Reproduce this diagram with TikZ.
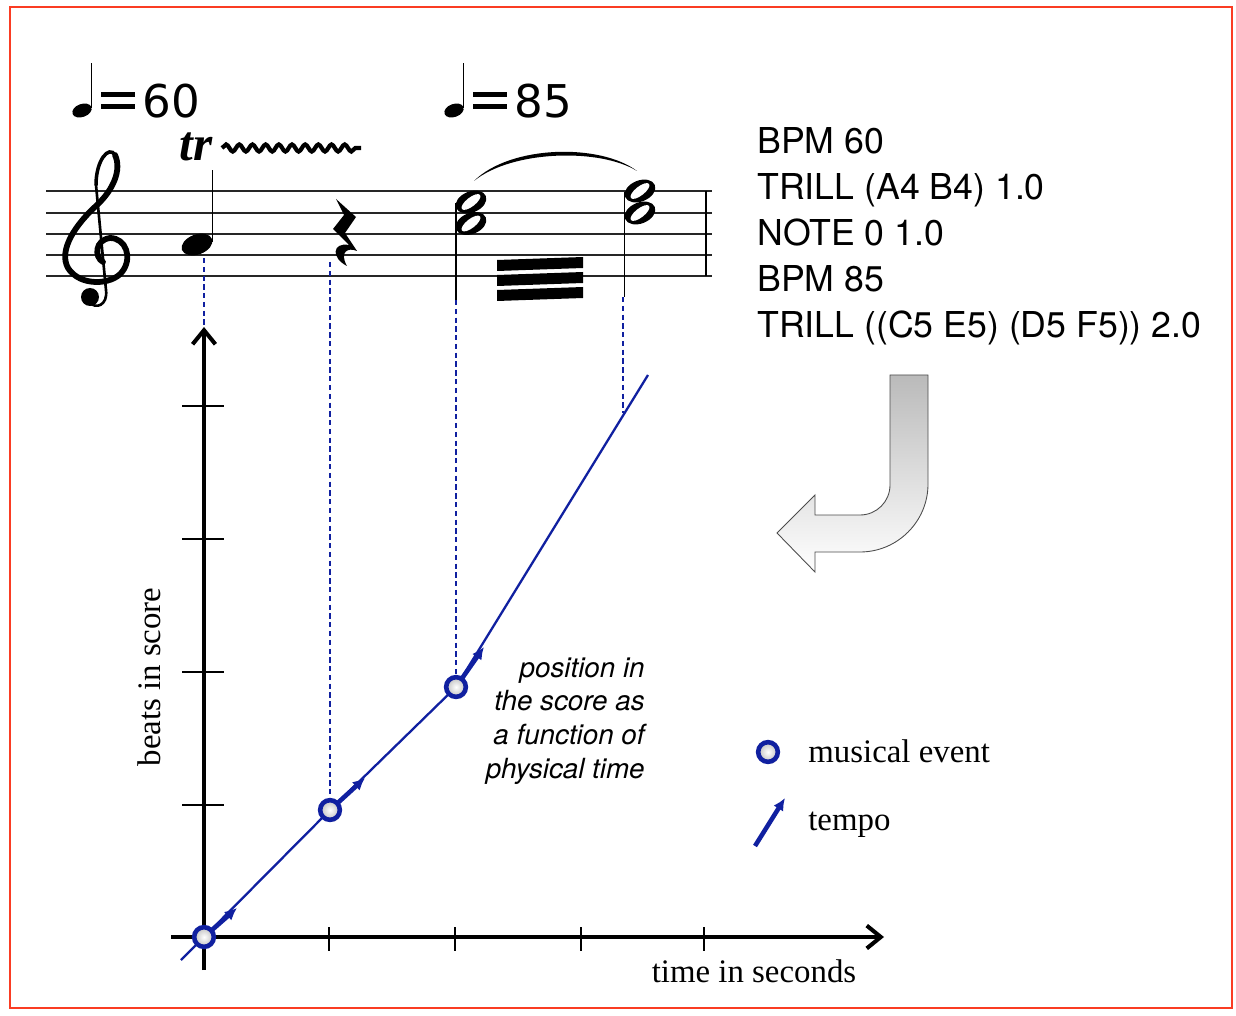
\documentclass[tikz,border=0pt]{standalone}
\usepackage{fontspec}
\setmainfont{Liberation Serif}
\setsansfont{TeX Gyre Heros}
\newfontfamily\symfont{DejaVu Sans}
\usetikzlibrary{arrows.meta, positioning, calc, decorations.pathmorphing, shadows}

\definecolor{evblue}{RGB}{16,32,160}
\definecolor{slidered}{RGB}{250,60,35}

\begin{document}
\begin{tikzpicture}[
    x=0.02cm, y=-0.02cm,
    >=Latex,
    % Estilos da partitura e do grafico
    staffline/.style={line width=0.8pt, black!85},
    axis/.style={line width=2.3pt, -{Straight Barb[length=8pt, width=13pt, line width=2.3pt]}},
    tick/.style={line width=0.6pt},
    curve/.style={evblue, line width=1.3pt},
    guide/.style={evblue, line width=0.7pt, dash pattern=on 3pt off 2pt},
    tempoarrow/.style={evblue, line width=2.6pt, -{Latex[length=7pt, width=6.5pt]}},
    event/.style={circle, draw=evblue, line width=2.6pt, minimum size=11.2pt, inner sep=0pt,
                  inner color=white, outer color=black!25,
                  drop shadow={opacity=0.3, shadow xshift=0.8pt, shadow yshift=-1.2pt}},
    code/.style={font=\sffamily\fontsize{20.3}{26.2}\selectfont, align=left, inner sep=0pt},
    caption/.style={font=\sffamily\itshape\fontsize{15.8}{19.1}\selectfont, align=right, inner sep=0pt},
    lbl/.style={font=\fontsize{18.7}{22}\selectfont, inner sep=0pt},
    bpm/.style={font=\symfont\fontsize{25.7}{26}\selectfont, inner sep=0pt, anchor=base west}
]
    \useasboundingbox (0,0) rectangle (1236,1016);

    % ================= MOLDURA =================
    \draw[slidered, line width=1.3pt] (10,7) rectangle (1232,1008);

    % ================= 1. PARTITURA =================
    \foreach \sy in {191,213,234,255,276}
        \draw[staffline] (46,\sy) -- (712,\sy);
    \draw[line width=1.5pt] (706,191) -- (706,276);

    % Clave de sol (desenhada)
    \draw[line width=3.3pt, line cap=round]
        (103,262) .. controls (94,257) and (95,240) .. (110,238)
        .. controls (126,238) and (133,258) .. (122,272)
        .. controls (112,285) and (80,287) .. (68,268)
        .. controls (58,250) and (76,224) .. (97,205)
        .. controls (113,190) and (122,170) .. (115,155);
    \draw[line width=2pt, line cap=round]
        (115,155) .. controls (109,145) and (96,160) .. (96,185);
    \draw[line width=1.5pt, line cap=round]
        (96,185) -- (106,290) .. controls (108,305) and (96,310) .. (89,302);
    \fill (90,297) circle (9);

    % Andamentos
    \fill[rotate around={20:(82,110.5)}] (82,110.5) ellipse (10 and 6.5);
    \draw[line width=0.9pt] (91.5,108) -- (91.5,63);
    \fill (101,92) rectangle (135,97);
    \fill (101,104) rectangle (135,109);
    \node[bpm] (bpmA) at (142,118) {60};

    \fill[rotate around={20:(454,110.5)}] (454,110.5) ellipse (10 and 6.5);
    \draw[line width=0.9pt] (463.5,108) -- (463.5,63);
    \fill (473,92) rectangle (507,97);
    \fill (473,104) rectangle (507,109);
    \node[bpm] (bpmB) at (514,118) {85};

    % Trinado sobre o La
    \node[font=\bfseries\itshape\fontsize{28}{28}\selectfont, anchor=base west, inner sep=0pt] (trill) at (179,161) {tr};
    \draw[line width=2.4pt, decorate, decoration={snake, amplitude=2pt, segment length=7.5pt}] (222,148) -- (361,148);
    \fill[rotate around={20:(197,244.5)}] (197,244.5) ellipse (16 and 10);
    \draw[line width=0.8pt] (212.5,242) -- (212.5,170);

    % Pausa de seminima
    \fill (336,199) -- (356,217) -- (345,233) -- (357,251)
        .. controls (348,247) and (339,252) .. (347,266)
        .. controls (331,258) and (332,242) .. (349,245)
        -- (333,229) -- (344,215) -- cycle;

    % Acordes (minimas) com tremolo
    \foreach \hx/\hy in {471/202, 471/223.5, 640/191, 640/213} {
        \fill[rotate around={22:(\hx,\hy)}] (\hx,\hy) ellipse (16 and 10.5);
        \fill[white, rotate around={38:(\hx,\hy)}] (\hx,\hy) ellipse (11.5 and 4.5);
    }
    \draw[line width=0.8pt] (456,203) -- (456,300);
    \draw[line width=0.8pt] (624.5,192) -- (624.5,297);
    \foreach \k in {0,1,2}
        \fill (497,{260+15*\k}) -- (583,{257+15*\k}) -- (583,{268+15*\k}) -- (497,{271+15*\k}) -- cycle;
    \fill (474,181) .. controls (510,145) and (600,143) .. (637,171)
        .. controls (600,148) and (512,150) .. (474,181) -- cycle;

    % ================= 2. TEXTO DO PROGRAMA =================
    \node[code, anchor=base west] (cmds) at (757,338)
        {BPM 60\\TRILL (A4 B4) 1.0\\NOTE 0 1.0\\BPM 85\\TRILL ((C5 E5) (D5 F5)) 2.0};

    % Seta curva (texto -> grafico)
    \draw[draw=black!70, line width=0.5pt, top color=black!27, bottom color=white]
        (890,375) -- (928,375) -- (928,484) .. controls (928,521.5) and (897.5,552) .. (860,552)
        -- (815,552) -- (815,572) -- (777,533) -- (815,495) -- (815,515) -- (860,515)
        .. controls (876.6,515) and (890,501.6) .. (890,485) -- cycle;

    % ================= 3. GRAFICO =================
    \coordinate (ybot) at (204,970);
    \coordinate (ytop) at (204,327);
    \coordinate (xleft) at (171,937);
    \coordinate (xright) at (884,937);
    \draw[axis] (ybot) -- (ytop);
    \draw[axis] (xleft) -- (xright);
    \foreach \ty in {406,539,672,805}
        \draw[tick] (182,\ty) -- (224,\ty);
    \foreach \tx in {329,455,581,704}
        \draw[tick] (\tx,927) -- (\tx,951);

    \node[lbl, anchor=base] (xlabel) at (754,982) {time in seconds};
    \node[lbl, anchor=base, rotate=90] (ylabel) at (160,677) {beats in score};

    % Curva posicao x tempo
    \coordinate (p0) at (204,937);
    \coordinate (p1) at (330,810);
    \coordinate (p2) at (456,687);
    \coordinate (start) at (181,960);
    \coordinate (end) at (648,375);
    \coordinate (meet) at (623,413);
    \draw[curve] (start) -- (p0) -- (p1) -- (p2) -- (end);

    % Tempo em cada evento
    \coordinate (t0) at (237,908);
    \coordinate (t1) at (365,778);
    \coordinate (t2) at (484,647);
    \draw[tempoarrow] (p0) -- (t0);
    \draw[tempoarrow] (p1) -- (t1);
    \draw[tempoarrow] (p2) -- (t2);

    \node[event] (ev0) at (p0) {};
    \node[event] (ev1) at (p1) {};
    \node[event] (ev2) at (p2) {};

    % Linhas de chamada (partitura -> grafico)
    \coordinate (nA) at (204,258);
    \coordinate (nR) at (330,262);
    \coordinate (nC1) at (456,300);
    \coordinate (nC2) at (623,297);
    \draw[guide] (nA) -- (ytop);
    \draw[guide] (nR) -- (ev1);
    \draw[guide] (nC1) -- (ev2);
    \draw[guide] (nC2) -- (meet);

    \node[caption, anchor=base east] (cap) at (645,778)
        {position in\\the score as\\a function of\\physical time};

    % ================= 4. LEGENDA =================
    \node[event] (legev) at (768,752) {};
    \node[lbl, anchor=base west] (evlabel) at (808,762) {musical event};
    \coordinate (legt0) at (755,846);
    \coordinate (legt1) at (785,798);
    \draw[tempoarrow] (legt0) -- (legt1);
    \node[lbl, anchor=base west] (tplabel) at (808,830) {tempo};

\end{tikzpicture}
\end{document}
